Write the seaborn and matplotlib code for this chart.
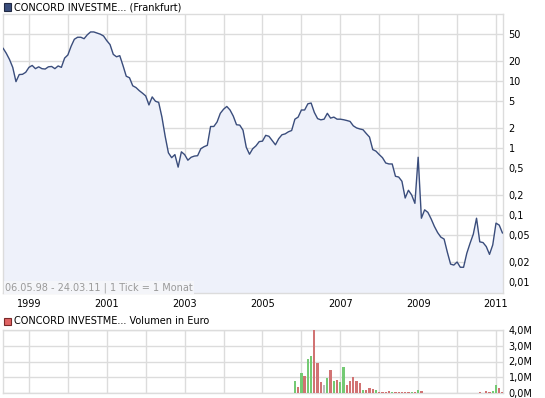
import matplotlib
matplotlib.use("Agg")
import matplotlib.pyplot as plt
import seaborn as sns
import pandas as pd
from matplotlib.patches import Rectangle
from matplotlib.ticker import NullLocator

# ---------------- data ----------------
title_price = "CONCORD INVESTME... (Frankfurt)"
title_volume = "CONCORD INVESTME... Volumen in Euro"
range_note = "06.05.98 - 24.03.11 | 1 Tick = 1 Monat"

start_year = 1998
start_month = 5  # May 1998, one value per month

price = [
    31, 26, 21, 16, 9.8, 12.5, 12.6, 13.5, 16.0, 17.1,
    15.3, 16.3, 15.3, 15.1, 16.3, 16.5, 15.3, 16.8, 16.0, 22.0,
    24.5, 33, 42, 45, 45, 42.8, 49, 54, 54, 52,
    50, 47, 40, 35, 25, 23, 23.9, 17, 11.8, 11.2,
    8.5, 8.0, 7.2, 6.6, 6.0, 4.4, 5.8, 5.0, 4.8, 2.9,
    1.5, 0.85, 0.72, 0.80, 0.52, 0.88, 0.80, 0.66, 0.73, 0.76,
    0.77, 0.98, 1.05, 1.10, 2.1, 2.1, 2.45, 3.3, 3.8, 4.18,
    3.7, 3.0, 2.23, 2.2, 1.85, 1.03, 0.81, 0.98, 1.08, 1.25,
    1.27, 1.55, 1.5, 1.3, 1.12, 1.38, 1.58, 1.63, 1.75, 1.83,
    2.7, 2.9, 3.7, 3.7, 4.58, 4.7, 3.4, 2.75, 2.64, 2.7,
    3.3, 2.8, 2.9, 2.7, 2.7, 2.65, 2.58, 2.5, 2.15, 2.0,
    1.93, 1.88, 1.65, 1.46, 0.95, 0.90, 0.80, 0.72, 0.60, 0.58,
    0.58, 0.38, 0.37, 0.32, 0.18, 0.235, 0.20, 0.15, 0.73, 0.09,
    0.12, 0.11, 0.088, 0.068, 0.055, 0.047, 0.044, 0.028, 0.0186, 0.018,
    0.020, 0.0167, 0.0167, 0.027, 0.038, 0.052, 0.09, 0.040, 0.039, 0.034,
    0.026, 0.036, 0.076, 0.071, 0.054,
]

# volume bars: month index (0 = May 1998), volume in million EUR, direction
vol_month = list(range(90, 130)) + [147, 149, 150, 151, 152, 153, 154]
vol_value = [
    0.74, 0.36, 1.24, 1.10, 2.16, 2.38, 4.00, 1.91, 0.70, 0.52,
    0.97, 1.44, 0.76, 0.85, 0.72, 1.64, 0.52, 0.76, 1.03, 0.76,
    0.63, 0.22, 0.22, 0.29, 0.25, 0.16, 0.09, 0.09, 0.09, 0.13,
    0.09, 0.09, 0.09, 0.09, 0.09, 0.09, 0.09, 0.09, 0.22, 0.13,
    0.09, 0.13, 0.09, 0.13, 0.50, 0.29, 0.09,
]
vol_dir = [
    "up", "down", "up", "down", "up", "up", "down", "down", "down", "flat",
    "up", "down", "up", "down", "up", "up", "down", "down", "down", "down",
    "down", "up", "down", "down", "down", "up", "down", "down", "down", "down",
    "up", "down", "down", "down", "down", "down", "up", "down", "up", "down",
    "down", "down", "down", "up", "up", "down", "down",
]

price_ticks = [0.01, 0.02, 0.05, 0.1, 0.2, 0.5, 1, 2, 5, 10, 20, 50]
price_tick_labels = ["0,01", "0,02", "0,05", "0,1", "0,2", "0,5", "1", "2", "5", "10", "20", "50"]
vol_ticks = [0, 1, 2, 3, 4]
vol_tick_labels = ["0,0M", "1,0M", "2,0M", "3,0M", "4,0M"]
year_ticks = list(range(1999, 2012))
year_labels = [str(y) if y % 2 == 1 else "" for y in year_ticks]

# ---------------- styling ----------------
sns.set_style("white")
plt.rcParams["font.family"] = ["DejaVu Sans"]
plt.rcParams["font.size"] = 7

W, H = 545, 398
LINE = "#3a4d7c"
FILL = "#eef1fa"
GRID = "#dcdcdc"
COLORS = {"up": "#66d866", "down": "#e06464", "flat": "#bbbbbb"}

def dec_year(i):
    return start_year + (start_month - 1 + i) / 12.0

t = [dec_year(i) for i in range(len(price))]
df_price = pd.DataFrame({"t": t, "price": price})
df_vol = pd.DataFrame({"t": [dec_year(m) for m in vol_month],
                       "vol": vol_value, "dir": vol_dir})

fig = plt.figure(figsize=(W / 100, H / 100), dpi=100)
fig.patch.set_facecolor("white")

x0, x1 = 3, 503
ax = fig.add_axes([x0 / W, 1 - 293 / H, (x1 - x0) / W, (293 - 14) / H])
ax2 = fig.add_axes([x0 / W, 1 - 393 / H, (x1 - x0) / W, (393 - 330) / H])

xlim = (dec_year(0), 2011.18)

# ---- price panel ----
ax.set_yscale("log")
ymin, ymax = 0.0069, 100
ax.fill_between(df_price["t"], df_price["price"], ymin, color=FILL, lw=0, zorder=1)
sns.lineplot(data=df_price, x="t", y="price", ax=ax, color=LINE, lw=1.0, zorder=3)
ax.set_ylim(ymin, ymax)
ax.set_xlim(*xlim)
ax.yaxis.tick_right()
ax.set_yticks(price_ticks)
ax.set_yticklabels(price_tick_labels)
ax.yaxis.set_minor_locator(NullLocator())
ax.set_xticks(year_ticks)
ax.set_xticklabels(year_labels)
ax.tick_params(axis="both", length=0, labelsize=7, colors="black")
ax.tick_params(axis="x", pad=4.5)
ax.tick_params(axis="y", pad=4)
ax.grid(True, color=GRID, lw=1, zorder=0)
ax.set_axisbelow(True)
for s in ax.spines.values():
    s.set_color(GRID)
    s.set_linewidth(1)
ax.set_xlabel("")
ax.set_ylabel("")
ax.text(0.004, 10 / 279 * 0.5 + 0.001, range_note, transform=ax.transAxes,
        fontsize=7, color="#9a9a9a", va="center", ha="left", zorder=5,
        bbox=dict(boxstyle="square,pad=0.15", facecolor="#f4f5f9", edgecolor="none"))

# ---- volume panel ----
sns.barplot(data=df_vol, x="t", y="vol", hue="dir", palette=COLORS,
            native_scale=True, dodge=False, width=0.7, legend=False,
            ax=ax2, zorder=3, linewidth=0)
ax2.set_xlim(*xlim)
ax2.set_ylim(0, 4.0)
ax2.yaxis.tick_right()
ax2.set_yticks(vol_ticks)
ax2.set_yticklabels(vol_tick_labels)
ax2.set_xticks(year_ticks)
ax2.set_xticklabels([])
ax2.tick_params(axis="both", length=0, labelsize=7, colors="black")
ax2.tick_params(axis="y", pad=4)
ax2.grid(True, color=GRID, lw=1, zorder=0)
ax2.set_axisbelow(True)
for s in ax2.spines.values():
    s.set_color(GRID)
    s.set_linewidth(1)
ax2.set_xlabel("")
ax2.set_ylabel("")

# ---- legend-like headers ----
def header(ypix, text, color, edge):
    fig.add_artist(Rectangle((4 / W, 1 - (ypix + 3.5) / H), 7 / W, 7 / H,
                             transform=fig.transFigure, facecolor=color,
                             edgecolor=edge, lw=0.8))
    fig.text(14 / W, 1 - ypix / H, text, fontsize=7, color="black",
             va="center", ha="left")

header(7, title_price, LINE, "#222a44")
header(321, title_volume, "#e06464", "#7a2a2a")

fig.savefig("out.png", dpi=100)
